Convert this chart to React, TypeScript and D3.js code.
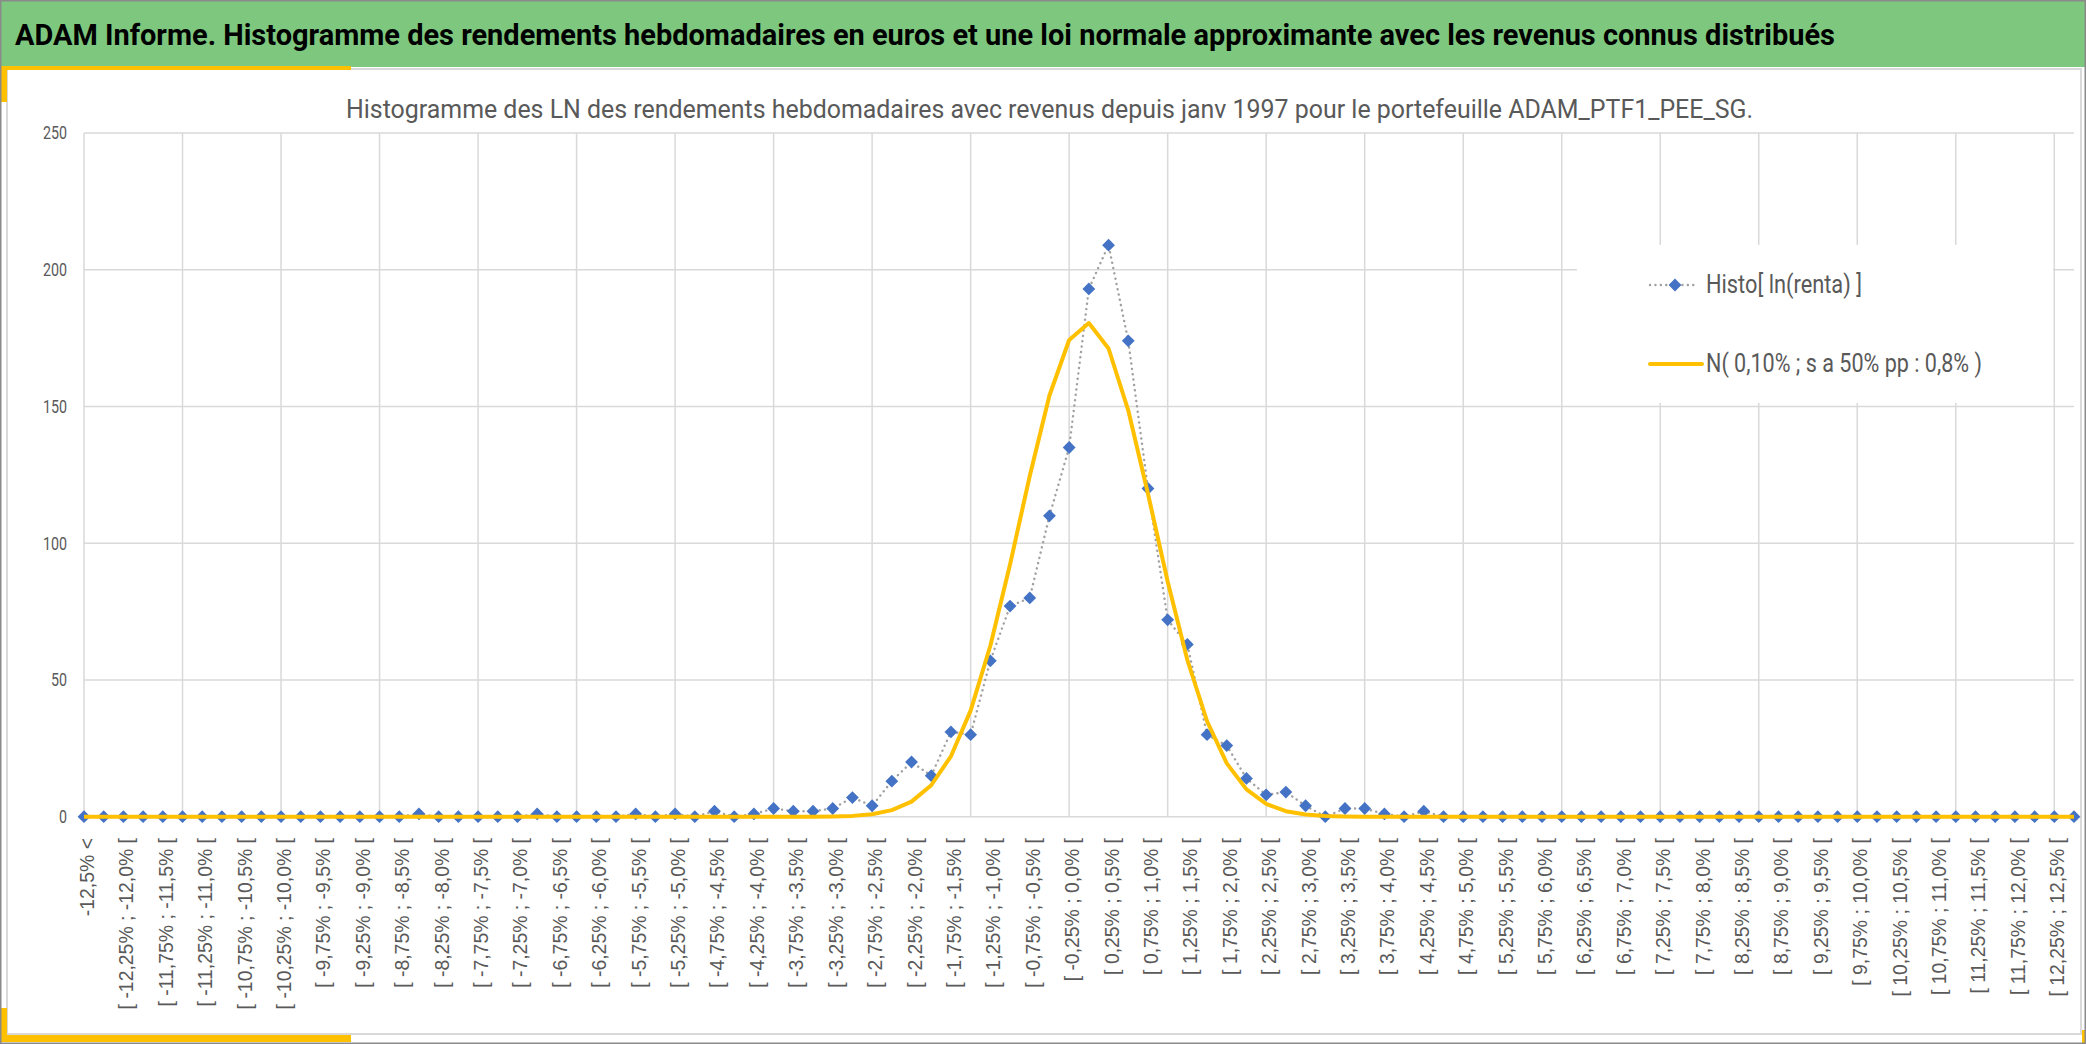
import React from "react";
import * as d3 from "d3";

const W = 2086;
const H = 1044;

const mainTitle =
  "ADAM Informe. Histogramme des rendements hebdomadaires en euros et une loi normale approximante avec les revenus connus distribués";
const chartTitle =
  "Histogramme des LN des rendements hebdomadaires avec revenus depuis janv 1997 pour le portefeuille ADAM_PTF1_PEE_SG.";

const categories: string[] = [
  "-12,5% <",
  "[ -12,5% ; -12,25% [", "[ -12,25% ; -12,0% [", "[ -12,0% ; -11,75% [", "[ -11,75% ; -11,5% [",
  "[ -11,5% ; -11,25% [", "[ -11,25% ; -11,0% [", "[ -11,0% ; -10,75% [", "[ -10,75% ; -10,5% [",
  "[ -10,5% ; -10,25% [", "[ -10,25% ; -10,0% [", "[ -10,0% ; -9,75% [", "[ -9,75% ; -9,5% [",
  "[ -9,5% ; -9,25% [", "[ -9,25% ; -9,0% [", "[ -9,0% ; -8,75% [", "[ -8,75% ; -8,5% [",
  "[ -8,5% ; -8,25% [", "[ -8,25% ; -8,0% [", "[ -8,0% ; -7,75% [", "[ -7,75% ; -7,5% [",
  "[ -7,5% ; -7,25% [", "[ -7,25% ; -7,0% [", "[ -7,0% ; -6,75% [", "[ -6,75% ; -6,5% [",
  "[ -6,5% ; -6,25% [", "[ -6,25% ; -6,0% [", "[ -6,0% ; -5,75% [", "[ -5,75% ; -5,5% [",
  "[ -5,5% ; -5,25% [", "[ -5,25% ; -5,0% [", "[ -5,0% ; -4,75% [", "[ -4,75% ; -4,5% [",
  "[ -4,5% ; -4,25% [", "[ -4,25% ; -4,0% [", "[ -4,0% ; -3,75% [", "[ -3,75% ; -3,5% [",
  "[ -3,5% ; -3,25% [", "[ -3,25% ; -3,0% [", "[ -3,0% ; -2,75% [", "[ -2,75% ; -2,5% [",
  "[ -2,5% ; -2,25% [", "[ -2,25% ; -2,0% [", "[ -2,0% ; -1,75% [", "[ -1,75% ; -1,5% [",
  "[ -1,5% ; -1,25% [", "[ -1,25% ; -1,0% [", "[ -1,0% ; -0,75% [", "[ -0,75% ; -0,5% [",
  "[ -0,5% ; -0,25% [", "[ -0,25% ; 0,0% [", "[ 0,0% ; 0,25% [", "[ 0,25% ; 0,5% [",
  "[ 0,5% ; 0,75% [", "[ 0,75% ; 1,0% [", "[ 1,0% ; 1,25% [", "[ 1,25% ; 1,5% [",
  "[ 1,5% ; 1,75% [", "[ 1,75% ; 2,0% [", "[ 2,0% ; 2,25% [", "[ 2,25% ; 2,5% [",
  "[ 2,5% ; 2,75% [", "[ 2,75% ; 3,0% [", "[ 3,0% ; 3,25% [", "[ 3,25% ; 3,5% [",
  "[ 3,5% ; 3,75% [", "[ 3,75% ; 4,0% [", "[ 4,0% ; 4,25% [", "[ 4,25% ; 4,5% [",
  "[ 4,5% ; 4,75% [", "[ 4,75% ; 5,0% [", "[ 5,0% ; 5,25% [", "[ 5,25% ; 5,5% [",
  "[ 5,5% ; 5,75% [", "[ 5,75% ; 6,0% [", "[ 6,0% ; 6,25% [", "[ 6,25% ; 6,5% [",
  "[ 6,5% ; 6,75% [", "[ 6,75% ; 7,0% [", "[ 7,0% ; 7,25% [", "[ 7,25% ; 7,5% [",
  "[ 7,5% ; 7,75% [", "[ 7,75% ; 8,0% [", "[ 8,0% ; 8,25% [", "[ 8,25% ; 8,5% [",
  "[ 8,5% ; 8,75% [", "[ 8,75% ; 9,0% [", "[ 9,0% ; 9,25% [", "[ 9,25% ; 9,5% [",
  "[ 9,5% ; 9,75% [", "[ 9,75% ; 10,0% [", "[ 10,0% ; 10,25% [", "[ 10,25% ; 10,5% [",
  "[ 10,5% ; 10,75% [", "[ 10,75% ; 11,0% [", "[ 11,0% ; 11,25% [", "[ 11,25% ; 11,5% [",
  "[ 11,5% ; 11,75% [", "[ 11,75% ; 12,0% [", "[ 12,0% ; 12,25% [", "[ 12,25% ; 12,5% [",
  "12,5% >",
];

const histoValues: number[] = [
  0, 0, 0, 0, 0, 0, 0, 0, 0, 0,
  0, 0, 0, 0, 0, 0, 0, 1, 0, 0,
  0, 0, 0, 1, 0, 0, 0, 0, 1, 0,
  1, 0, 2, 0, 1, 3, 2, 2, 3, 7,
  4, 13, 20, 15, 31, 30, 57, 77, 80, 110,
  135, 193, 209, 174, 120, 72, 63, 30, 26, 14,
  8, 9, 4, 0, 3, 3, 1, 0, 2, 0,
  0, 0, 0, 0, 0, 0, 0, 0, 0, 0,
  0, 0, 0, 0, 0, 0, 0, 0, 0, 0,
  0, 0, 0, 0, 0, 0, 0, 0, 0, 0,
  0, 0,
];

const normalValues: number[] = [
  0, 0, 0, 0, 0, 0, 0, 0, 0, 0,
  0, 0, 0, 0, 0, 0, 0, 0, 0, 0,
  0, 0, 0, 0, 0, 0, 0, 0, 0, 0,
  0, 0, 0, 0, 0, 0, 0, 0, 0.1, 0.3,
  0.9, 2.4, 5.5, 11.5, 22.1, 38.8, 62.5, 92.2, 124.6, 154.0,
  174.3, 180.5, 171.2, 148.6, 118.1, 86.0, 57.3, 34.9, 19.5, 10.0,
  4.7, 2.0, 0.8, 0.3, 0.1, 0, 0, 0, 0, 0,
  0, 0, 0, 0, 0, 0, 0, 0, 0, 0,
  0, 0, 0, 0, 0, 0, 0, 0, 0, 0,
  0, 0, 0, 0, 0, 0, 0, 0, 0, 0,
  0, 0,
];

const yTicks: number[] = [0, 50, 100, 150, 200, 250];

const seriesNames: string[] = ["Histo[ ln(renta) ]", "N( 0,10% ; s a 50% pp : 0,8% )"];

const GRID = "#D9D9D9";
const TXT = "#595959";
const BLUE = "#4472C4";
const GOLD = "#FFC000";
const DOT = "#A0A0A0";

export default function App() {
  const plotLeft = 84;
  const plotRight = 2074;
  const plotTop = 133;
  const plotBottom = 816.7;

  const x = d3
    .scalePoint<number>()
    .domain(categories.map((_, i) => i))
    .range([plotLeft, plotRight])
    .padding(0);
  const y = d3.scaleLinear().domain([0, 250]).range([plotBottom, plotTop]);

  const line = d3
    .line<number>()
    .x((_, i) => x(i) as number)
    .y((d) => y(d));

  const histoPath = line(histoValues) || "";
  const normalPath = line(normalValues) || "";

  const vGrid = categories.map((_, i) => i).filter((i) => i % 5 === 0);
  const labelIdx = categories.map((_, i) => i).filter((i) => i % 2 === 0);

  const diamond = (cx: number, cy: number, r: number) =>
    `M${cx},${cy - r}L${cx + r},${cy}L${cx},${cy + r}L${cx - r},${cy}Z`;

  const legend = { x0: 1577, y0: 245, x1: 2053, y1: 403 };

  return (
    <div style={{ position: "absolute", left: 0, top: 0, width: W, height: H }}>
      <svg width={W} height={H} viewBox={`0 0 ${W} ${H}`} style={{ display: "block" }}>
        <rect x={0} y={0} width={W} height={H} fill="#ffffff" />
        {/* title bar */}
        <rect x={1} y={1} width={W - 2} height={66} fill="#7DC87E" />
        <text
          x={15}
          y={45}
          fontFamily="Roboto, 'Open Sans', sans-serif"
          fontWeight={700}
          fontSize={29}
          fill="#000000"
          textLength={1820}
          lengthAdjust="spacingAndGlyphs"
        >
          {mainTitle}
        </text>
        {/* chart area */}
        <rect x={7} y={69} width={2074} height={965} fill="#ffffff" stroke={GRID} strokeWidth={2} />
        {/* yellow accents */}
        <rect x={0} y={66} width={351} height={4} fill={GOLD} />
        <rect x={0} y={66} width={7} height={36} fill={GOLD} />
        <rect x={0} y={1035} width={351} height={7} fill={GOLD} />
        <rect x={0} y={1008} width={7} height={34} fill={GOLD} />
        <rect x={2082} y={1030} width={4} height={14} fill={GOLD} />
        {/* outer border */}
        <rect x={0.75} y={0.75} width={W - 1.5} height={H - 1.5} fill="none" stroke="#8A8A8A" strokeWidth={1.5} />

        {/* chart title */}
        <text
          x={1049.5}
          y={118}
          textAnchor="middle"
          fontFamily="Roboto, 'Open Sans', sans-serif"
          fontSize={26}
          fill={TXT}
          textLength={1407}
          lengthAdjust="spacingAndGlyphs"
        >
          {chartTitle}
        </text>

        {/* gridlines */}
        {yTicks.map((t) => (
          <line key={"h" + t} x1={plotLeft} x2={plotRight} y1={y(t)} y2={y(t)} stroke={GRID} strokeWidth={1.5} />
        ))}
        {vGrid.map((i) => (
          <line
            key={"v" + i}
            x1={x(i)}
            x2={x(i)}
            y1={plotTop}
            y2={plotBottom}
            stroke={GRID}
            strokeWidth={1.5}
          />
        ))}

        {/* y tick labels */}
        {yTicks.map((t) => {
          const s = String(t);
          return (
            <text
              key={"yl" + t}
              x={67}
              y={y(t)}
              dy="0.36em"
              textAnchor="end"
              fontFamily="Roboto, 'Open Sans', sans-serif"
              fontSize={18}
              fill={TXT}
              textLength={s.length * 8}
              lengthAdjust="spacingAndGlyphs"
            >
              {s}
            </text>
          );
        })}

        {/* x tick labels */}
        {labelIdx.map((i) => {
          const cx = (x(i) as number) + 3;
          return (
            <text
              key={"xl" + i}
              transform={`translate(${cx},838) rotate(-90)`}
              dy="0.36em"
              textAnchor="end"
              fontFamily="'Liberation Sans', Arial, sans-serif"
              fontSize={19.4}
              fill={TXT}
            >
              {categories[i]}
            </text>
          );
        })}

        {/* legend box */}
        <rect
          x={legend.x0}
          y={legend.y0}
          width={legend.x1 - legend.x0}
          height={legend.y1 - legend.y0}
          fill="#ffffff"
        />

        {/* histo series */}
        <path
          d={histoPath}
          fill="none"
          stroke={DOT}
          strokeWidth={2.4}
          strokeDasharray="0.1 5.3"
          strokeLinecap="round"
        />
        {histoValues.map((v, i) => (
          <path key={"m" + i} d={diamond(x(i) as number, y(v), 6.4)} fill={BLUE} />
        ))}

        {/* normal series */}
        <path d={normalPath} fill="none" stroke={GOLD} strokeWidth={4} strokeLinejoin="round" />

        {/* legend items */}
        <line
          x1={1650}
          x2={1698}
          y1={285}
          y2={285}
          stroke={DOT}
          strokeWidth={2.4}
          strokeDasharray="0.1 5.3"
          strokeLinecap="round"
        />
        <path d={diamond(1675, 285, 6.4)} fill={BLUE} />
        <text
          x={1706}
          y={293}
          fontFamily="Roboto, 'Open Sans', sans-serif"
          fontSize={25}
          fill={TXT}
          textLength={156}
          lengthAdjust="spacingAndGlyphs"
        >
          {seriesNames[0]}
        </text>
        <line x1={1650} x2={1702} y1={364} y2={364} stroke={GOLD} strokeWidth={4} strokeLinecap="round" />
        <text
          x={1706}
          y={372}
          fontFamily="Roboto, 'Open Sans', sans-serif"
          fontSize={25}
          fill={TXT}
          textLength={276}
          lengthAdjust="spacingAndGlyphs"
        >
          {seriesNames[1]}
        </text>
      </svg>
    </div>
  );
}
